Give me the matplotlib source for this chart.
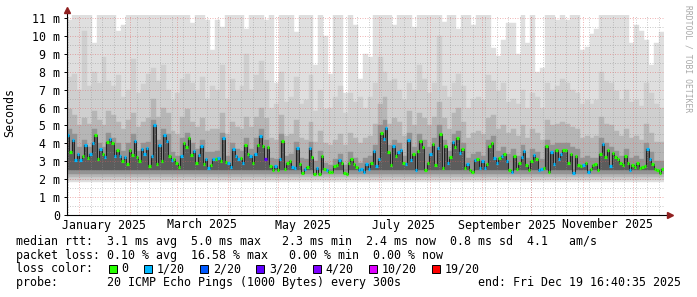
import datetime as dt
import matplotlib
matplotlib.use("Agg")
import matplotlib.pyplot as plt
import matplotlib.dates as mdates
from matplotlib.patches import Rectangle

plt.rcParams['font.family'] = ['DejaVu Sans Mono']

# ---- values ----
end_time = dt.datetime(2025, 12, 19, 16, 40, 35)
span_days = 360

# median rtt (ms), one per consolidated step
median_ms = [
    4.45, 3.5, 4.2, 3.05, 3.4, 3.05, 3.3, 3.9, 3.2, 3.4,
    4.0, 4.45, 3.1, 3.7, 3.4, 3.25, 4.1, 4.25, 4.0, 3.3,
    3.65, 3.3, 3.0, 3.25, 2.85, 3.65, 3.35, 4.15, 3.25, 3.0,
    3.7, 3.4, 3.75, 2.75, 3.3, 5.0, 2.85, 3.9, 3.0, 4.45,
    4.15, 3.3, 3.05, 3.15, 2.9, 2.7, 3.3, 4.0, 3.8, 4.3,
    3.35, 3.6, 2.9, 3.35, 3.85, 2.85, 3.15, 2.65, 2.8, 3.15,
    3.15, 3.2, 3.0, 4.3, 2.95, 2.9, 2.7, 3.7, 3.3, 3.15,
    3.2, 2.9, 3.9, 3.4, 3.3, 2.9, 3.4, 3.9, 4.4, 3.85,
    3.1, 3.8, 2.75, 2.5, 2.75, 2.5, 3.15, 4.15, 2.55, 2.9,
    3.0, 2.7, 2.65, 3.75, 2.85, 2.35, 2.55, 2.7, 3.75, 3.25,
    2.3, 2.6, 2.3, 3.3, 2.55, 2.5, 2.4, 2.4, 2.75, 2.8,
    3.05, 2.9, 2.35, 2.3, 2.9, 3.15, 2.85, 2.7, 2.5, 2.55,
    2.4, 2.85, 2.55, 2.9, 3.55, 2.75, 3.15, 4.6, 4.25, 4.85,
    3.5, 2.8, 3.85, 3.3, 3.5, 3.65, 2.9, 2.85, 4.2, 3.05,
    3.4, 2.5, 3.6, 4.15, 3.8, 2.5, 2.9, 3.4, 3.95, 2.8,
    3.75, 4.55, 2.6, 3.85, 2.9, 3.25, 4.1, 3.8, 4.3, 3.45,
    3.7, 2.65, 2.85, 2.5, 2.4, 3.05, 3.15, 2.6, 3.0, 2.6,
    2.85, 3.85, 4.0, 3.2, 2.9, 3.2, 3.3, 3.4, 3.0, 2.5,
    2.4, 3.3, 2.55, 2.9, 3.25, 3.55, 2.8, 2.5, 3.0, 3.35,
    3.15, 2.5, 2.55, 2.65, 3.85, 2.4, 3.5, 2.85, 3.65, 3.1,
    3.4, 3.65, 3.65, 2.9, 3.4, 2.35, 3.3, 2.8, 2.75, 2.8,
    2.9, 2.4, 2.55, 2.8, 2.85, 2.5, 3.4, 3.95, 3.25, 3.65,
    2.75, 3.45, 3.25, 3.15, 2.9, 2.8, 3.3, 2.9, 2.5, 2.8,
    2.7, 2.9, 2.6, 2.7, 2.75, 3.7, 3.1, 2.85, 2.55, 2.5,
    2.35, 2.55,
]

# lost pings out of 20 for each step
loss_pings = [
    1, 0, 1, 1, 1, 1, 0, 1, 0, 1, 1, 0, 0, 1, 0, 1, 0, 1, 0, 1,
    0, 1, 0, 1, 0, 0, 0, 1, 0, 0, 1, 1, 1, 0, 1, 1, 0, 1, 0, 1,
    1, 0, 1, 0, 0, 0, 1, 0, 0, 0, 0, 1, 0, 1, 1, 0, 1, 1, 0, 1,
    0, 1, 0, 1, 0, 1, 1, 1, 1, 1, 0, 1, 0, 0, 1, 0, 1, 0, 1, 0,
    3, 0, 0, 0, 1, 0, 1, 0, 0, 0, 0, 1, 1, 1, 0, 0, 1, 0, 1, 0,
    0, 1, 0, 0, 0, 1, 0, 0, 0, 0, 1, 0, 0, 0, 0, 0, 0, 0, 1, 1,
    1, 1, 1, 0, 1, 1, 1, 0, 1, 1, 0, 0, 1, 0, 1, 1, 0, 1, 1, 1,
    0, 1, 0, 0, 0, 0, 0, 1, 0, 0, 1, 0, 0, 0, 1, 0, 1, 0, 0, 1,
    0, 0, 1, 0, 0, 1, 0, 1, 1, 1, 0, 0, 0, 1, 1, 0, 1, 0, 1, 0,
    1, 0, 0, 0, 1, 1, 0, 0, 0, 1, 0, 1, 1, 0, 0, 0, 1, 1, 0, 1,
    1, 0, 0, 0, 0, 1, 0, 0, 0, 1, 0, 1, 0, 0, 0, 0, 0, 1, 0, 0,
    1, 0, 0, 0, 0, 0, 0, 0, 1, 0, 0, 0, 0, 0, 0, 1, 1, 0, 0, 0,
    0, 0,
]

# smoke envelope (ms): top of each grey band, coarser steps
smoke_max = [
    10.9, 11.2, 11.2, 11.2, 11.2, 9.6, 11.2, 11.2, 11.2, 11.2,
    10.3, 10.6, 11.2, 11.2, 11.2, 11.2, 11.2, 11.2, 11.2, 11.2,
    11.2, 11.2, 11.2, 11.2, 11.2, 10.7, 11.2, 11.2, 10.9, 9.2,
    10.9, 10.5, 11.2, 11.2, 11.2, 11.2, 10.4, 11.2, 11.2, 11.2,
    10.9, 11.2, 7.4, 11.2, 11.2, 11.2, 10.2, 11.2, 11.2, 11.2,
    8.4, 11.2, 10.0, 7.9, 11.2, 11.2, 6.8, 11.2, 10.6, 7.6,
    9.0, 8.8, 11.2, 11.2, 11.2, 11.2, 10.6, 11.2, 11.2, 11.2,
    10.5, 11.2, 11.2, 11.2, 11.2, 11.2, 10.8, 11.2, 11.2, 10.4,
    11.2, 11.2, 10.6, 11.2, 11.2, 11.2, 9.3, 8.9, 9.8, 10.7,
    10.7, 9.0, 11.2, 9.6, 11.2, 8.0, 8.2, 11.2, 11.2, 10.9,
    11.2, 10.9, 11.2, 11.2, 9.2, 9.4, 10.1, 10.4, 11.2, 11.2,
    11.2, 11.2, 11.2, 11.2, 9.6, 10.6, 10.3, 9.8, 8.4, 9.6,
    10.2,
]
smoke_p90 = [
    7.7, 7.9, 7.0, 10.3, 7.2, 8.0, 7.4, 8.8, 7.5, 7.2,
    7.8, 6.6, 7.0, 8.7, 6.8, 7.3, 7.9, 8.2, 7.5, 8.4,
    7.0, 6.4, 6.8, 7.6, 7.9, 7.4, 6.9, 7.7, 6.5, 7.2,
    7.0, 8.4, 6.5, 7.6, 6.9, 7.2, 9.0, 7.0, 7.8, 8.6,
    7.5, 6.0, 6.2, 8.0, 6.3, 6.6, 7.7, 6.2, 6.4, 7.8,
    5.8, 7.0, 5.9, 6.0, 6.6, 7.2, 5.7, 6.8, 6.3, 6.6,
    6.0, 6.6, 7.4, 8.8, 8.0, 7.5, 7.6, 7.0, 6.4, 7.4,
    7.0, 8.4, 7.6, 6.8, 7.4, 10.0, 7.2, 6.6, 7.4, 7.9,
    7.2, 6.0, 6.5, 6.6, 6.4, 7.8, 7.5, 6.9, 7.4, 6.3,
    6.5, 6.2, 7.0, 6.0, 6.8, 6.6, 6.0, 7.4, 7.0, 7.2,
    7.6, 7.4, 7.0, 6.8, 6.2, 6.4, 6.2, 6.4, 8.0, 7.5,
    7.4, 6.9, 6.4, 7.0, 6.3, 6.4, 6.1, 7.4, 6.8, 6.2,
    6.0,
]
smoke_p75 = [
    5.9, 5.6, 5.0, 5.4, 5.1, 5.8, 5.3, 5.0, 5.8, 5.6,
    5.2, 4.8, 5.3, 5.7, 4.9, 5.2, 5.4, 6.5, 5.5, 6.0,
    5.7, 4.7, 4.5, 5.5, 5.9, 5.2, 4.9, 5.4, 4.7, 4.8,
    4.8, 5.7, 4.5, 5.2, 4.9, 4.8, 5.5, 4.9, 5.5, 6.0,
    5.4, 4.3, 4.2, 5.6, 4.4, 4.5, 5.3, 4.3, 4.2, 5.2,
    4.1, 4.7, 4.0, 3.9, 4.2, 4.5, 3.9, 4.6, 4.3, 4.0,
    4.3, 4.4, 5.1, 6.2, 6.6, 5.1, 5.4, 5.2, 4.4, 5.8,
    5.0, 5.7, 5.4, 5.0, 5.5, 6.3, 5.4, 4.8, 5.7, 6.0,
    5.2, 4.3, 4.6, 4.7, 4.5, 5.4, 5.6, 4.8, 5.0, 4.6,
    4.8, 4.4, 5.0, 4.3, 4.8, 4.6, 4.2, 5.3, 5.0, 5.1,
    5.2, 5.1, 4.9, 4.8, 4.3, 4.4, 4.3, 4.4, 5.5, 5.1,
    5.0, 4.7, 4.4, 4.8, 4.3, 4.4, 4.2, 5.1, 4.6, 4.1,
    4.1,
]
smoke_p60 = [
    4.8, 4.5, 3.8, 4.2, 3.8, 4.8, 4.0, 3.8, 4.6, 4.3,
    4.0, 3.6, 4.0, 4.5, 3.6, 4.0, 4.1, 5.3, 4.2, 4.8,
    4.5, 3.5, 3.3, 4.3, 4.6, 4.0, 3.7, 4.2, 3.5, 3.5,
    3.6, 4.6, 3.3, 4.0, 3.7, 3.6, 4.3, 3.7, 4.3, 4.8,
    4.2, 3.2, 3.1, 4.5, 3.3, 3.4, 4.1, 3.2, 3.1, 4.1,
    3.0, 3.6, 2.9, 2.8, 3.1, 3.4, 2.8, 3.5, 3.2, 2.9,
    3.2, 3.3, 3.9, 5.0, 5.3, 3.9, 4.2, 4.0, 3.3, 4.6,
    3.8, 4.5, 4.2, 3.8, 4.3, 5.0, 4.2, 3.6, 4.5, 4.7,
    4.0, 3.2, 3.4, 3.5, 3.3, 4.2, 4.4, 3.6, 3.8, 3.4,
    3.7, 3.3, 3.9, 3.2, 3.7, 3.5, 3.1, 4.2, 3.9, 4.0,
    4.0, 4.0, 3.8, 3.7, 3.2, 3.3, 3.2, 3.2, 4.3, 4.0,
    3.8, 3.6, 3.3, 3.7, 3.2, 3.3, 3.1, 4.0, 3.5, 3.0,
    3.0,
]
# bottom of each grey band (ms), outermost first
smoke_floor = [1.85, 1.95, 2.1, 2.3, 2.5]

loss_levels = [0, 1, 2, 3, 4, 10, 19]
loss_labels = ['0', '1/20', '2/20', '3/20', '4/20', '10/20', '19/20']
loss_colors = ['#26ff00', '#00b8ff', '#0059ff', '#5e00ff', '#7e00ff', '#dd00ff', '#ff0000']

line_rtt = "median rtt:  3.1 ms avg  5.0 ms max   2.3 ms min  2.4 ms now  0.8 ms sd  4.1   am/s"
line_loss = "packet loss: 0.10 % avg  16.58 % max   0.00 % min  0.00 % now"
line_probe = "probe:       20 ICMP Echo Pings (1000 Bytes) every 300s"
line_end = "end: Fri Dec 19 16:40:35 2025"

month_labels = ['January 2025', 'March 2025', 'May 2025', 'July 2025',
                'September 2025', 'November 2025']
month_label_dates = [dt.datetime(2025, m, 16) for m in (1, 3, 5, 7, 9, 11)]

# ---- figure ----
W, H = 697, 297
fig = plt.figure(figsize=(W / 100, H / 100), dpi=100)
fig.patch.set_facecolor('white')
ax = fig.add_axes([67 / W, (H - 215) / H, 596.5 / W, 200 / H])
ax.set_facecolor('white')
for s in ax.spines.values():
    s.set_visible(False)

t_end = mdates.date2num(end_time)
t0 = t_end - span_days
ax.set_xlim(t0, t_end)
ax.set_ylim(0, 11.17)

shades = ['#dfdfdf', '#cfcfcf', '#b6b6b6', '#939393', '#5c5c5c']

# smoke bands
sm_step = span_days / len(smoke_max)
sm_left = [t0 + i * sm_step for i in range(len(smoke_max))]
for tops, floor, shade in zip([smoke_max, smoke_p90, smoke_p75, smoke_p60],
                              smoke_floor[:4], shades[:4]):
    ax.bar(sm_left, [t - floor for t in tops], width=sm_step, bottom=floor,
           align='edge', color=shade, edgecolor=shade, linewidth=0.3, zorder=2)

# dark core below the median
md_step = span_days / len(median_ms)
md_left = [t0 + i * md_step for i in range(len(median_ms))]
md_right = [x + md_step for x in md_left]
core_floor = smoke_floor[4]
ax.bar(md_left, [max(m - core_floor, 0) for m in median_ms], width=md_step,
       bottom=core_floor, align='edge', color=shades[4], edgecolor=shades[4],
       linewidth=0.3, zorder=2.2)

# grid
minor_c = (0.56, 0.56, 0.56, 0.45)
major_c = (0.87, 0.37, 0.37, 0.45)
dots = (0, (1, 1.5))
for k in range(1, 23):
    v = k * 0.5
    if v > 11.17:
        break
    if k % 2:
        ax.axhline(v, color=minor_c, lw=0.72, ls=dots, zorder=3)
    else:
        ax.axhline(v, color=major_c, lw=0.72, ls=dots, zorder=3)

jan1 = mdates.date2num(dt.datetime(2025, 1, 1))
wk = jan1 - 7
while wk > t0:
    ax.axvline(wk, color=minor_c, lw=0.72, ls=dots, zorder=3)
    wk -= 7
wk = jan1 + 7
while wk < t_end:
    ax.axvline(wk, color=minor_c, lw=0.72, ls=dots, zorder=3)
    wk += 7
for m in range(1, 13):
    ax.axvline(mdates.date2num(dt.datetime(2025, m, 1)), color=major_c,
               lw=0.72, ls=dots, zorder=3)

# median line with loss colours
def loss_color(n):
    c = loss_colors[0]
    for lvl, col in zip(loss_levels, loss_colors):
        if n >= lvl:
            c = col
    return c

ax.stairs(median_ms, md_left + [t_end], baseline=None, color='#222222',
          lw=0.7, zorder=4)
ax.hlines(median_ms, md_left, md_right,
          colors=[loss_color(n) for n in loss_pings], lw=2.3, zorder=5)

# axes lines and arrows
ax.plot([0, 1.008], [0, 0], transform=ax.transAxes, color='black', lw=0.8,
        clip_on=False, zorder=6)
ax.plot([0, 0], [0, 1.03], transform=ax.transAxes, color='black', lw=0.8,
        clip_on=False, zorder=6)
ax.plot([1.0117], [0], transform=ax.transAxes, marker='>', ms=3.8,
        color='#902020', clip_on=False, zorder=7)
ax.plot([0], [1.0225], transform=ax.transAxes, marker='^', ms=3.8,
        color='#902020', clip_on=False, zorder=7)

# ticks
ax.set_yticks(range(12))
ax.set_yticklabels(['0'] + ['%d m' % i for i in range(1, 12)])
ax.tick_params(axis='y', length=2.2, width=0.7, pad=2.9, labelsize=8.4,
               colors='black')
ax.set_xticks([])

for lab, d in zip(month_labels, month_label_dates):
    ax.text(mdates.date2num(d), -0.05, lab, transform=ax.get_xaxis_transform(),
            ha='center', va='center', fontsize=8.4)

# texts around
fig.text(10 / W, 1 - 113 / H, 'Seconds', rotation=90, ha='center',
         va='center', fontsize=8.4)
fig.text(688 / W, 1 - 5 / H, 'RRDTOOL / TOBI OETIKER', rotation=270,
         ha='center', va='top', fontsize=5.8, color='#a8a8a8')

fig.text(16 / W, 1 - 241.5 / H, line_rtt, ha='left', va='center', fontsize=8.4)
fig.text(16 / W, 1 - 255 / H, line_loss, ha='left', va='center', fontsize=8.4)
fig.text(16 / W, 1 - 269 / H, 'loss color:', ha='left', va='center',
         fontsize=8.4)
fig.text(16 / W, 1 - 282.5 / H, line_probe, ha='left', va='center',
         fontsize=8.4)
fig.text(478 / W, 1 - 282.5 / H, line_end, ha='left', va='center',
         fontsize=8.4)

char_w = 7.03
col = 13
for lab, col_c in zip(loss_labels, loss_colors):
    sx = 16 + col * char_w + 1.3
    fig.add_artist(Rectangle((sx / W, 1 - 273.3 / H), 8 / W, 8.6 / H,
                             transform=fig.transFigure, facecolor=col_c,
                             edgecolor='black', lw=0.7))
    fig.text((16 + (col + 2) * char_w) / W, 1 - 269 / H, lab, ha='left',
             va='center', fontsize=8.4)
    col += 2 + len(lab) + 2

fig.savefig('out.png', dpi=100, facecolor='white')
